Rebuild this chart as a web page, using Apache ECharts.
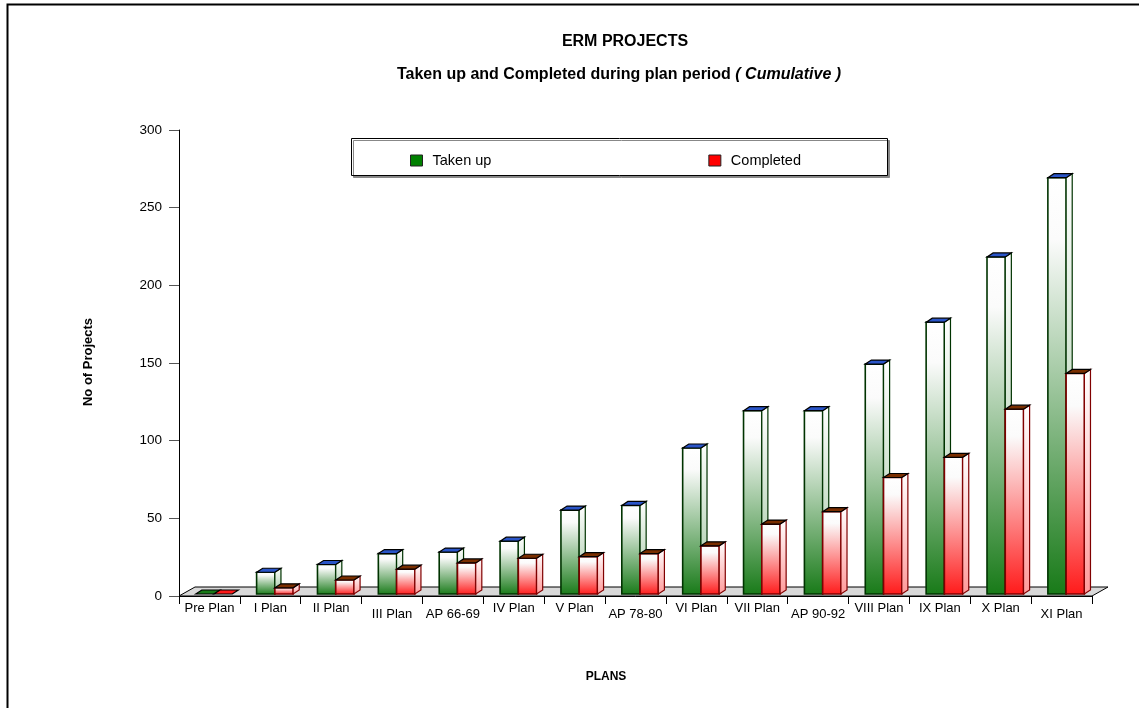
<!DOCTYPE html>
<html>
<head>
<meta charset="utf-8">
<script src="https://cdn.jsdelivr.net/npm/echarts@6/dist/echarts.min.js"></script>
<style>
  html, body { margin: 0; padding: 0; background: #fff; }
  #chart { width: 1139px; height: 708px; }
</style>
</head>
<body>
<div id="chart"></div>
<script>
// values
var plans = ['Pre Plan', 'I Plan', 'II Plan', 'III Plan', 'AP 66-69', 'IV Plan', 'V Plan', 'AP 78-80',
  'VI Plan', 'VII Plan', 'AP 90-92', 'VIII Plan', 'IX Plan', 'X Plan', 'XI Plan'];
var takenUp = [0, 14, 19, 26, 27, 34, 54, 57, 94, 118, 118, 148, 175, 217, 268];
var completed = [0, 4, 9, 16, 20, 23, 24, 26, 31, 45, 53, 75, 88, 119, 142];
// labels that sit a bit lower in the original
var lowLabels = [3, 4, 7, 10, 14];

var FONT = '"Liberation Sans", Arial, sans-serif';
var chart = echarts.init(document.getElementById('chart'));

function toPairs(arr) {
  return arr.map(function (v, i) { return [i, v]; });
}

// draws a pseudo-3d bar: front face, right side and top
function bar3d(offset, c) {
  return function (params, api) {
    var i = api.value(0), v = api.value(1);
    var base = api.coord([i, 0]);
    var top = api.coord([i, v]);
    var bw = api.size([1, 0])[0];
    var w = bw * 0.3;
    var d = bw * 0.1;
    var dh = 4;
    var x0 = base[0] + bw * offset;
    var y0 = base[1] - 2;
    var y1 = top[1] - 2;
    var kids = [];
    var topFill = v > 0 ? c.top : c.bottom;
    if (v > 0) {
      kids.push({
        type: 'rect',
        shape: { x: x0, y: y1, width: w, height: y0 - y1 },
        style: {
          fill: new echarts.graphic.LinearGradient(0, 0, 0, 1, [
            { offset: 0, color: '#ffffff' },
            { offset: 0.15, color: '#fbfbfb' },
            { offset: 1, color: c.bottom }
          ]),
          stroke: c.border, lineWidth: 1.6
        }
      });
      kids.push({
        type: 'polygon',
        shape: { points: [[x0 + w, y1], [x0 + w + d, y1 - dh], [x0 + w + d, y0 - dh], [x0 + w, y0]] },
        style: {
          fill: new echarts.graphic.LinearGradient(0, 0, 0, 1, [
            { offset: 0, color: '#ffffff' },
            { offset: 1, color: c.side }
          ]),
          stroke: c.border, lineWidth: 1.2
        }
      });
    }
    kids.push({
      type: 'polygon',
      shape: { points: [[x0, y1], [x0 + d, y1 - dh], [x0 + w + d, y1 - dh], [x0 + w, y1]] },
      style: { fill: topFill, stroke: '#000', lineWidth: 1.2 }
    });
    return { type: 'group', children: kids };
  };
}

var option = {
  backgroundColor: '#fff',
  animation: false,
  grid: { left: 179, right: 47, top: 130, bottom: 112, containLabel: false },
  legend: {
    left: 405, top: 148,
    itemGap: 217,
    itemWidth: 12, itemHeight: 11,
    icon: 'rect',
    itemStyle: { borderColor: '#222', borderWidth: 1 },
    textStyle: { fontFamily: FONT, fontSize: 14.5, color: '#000', padding: [0, 0, 0, 5] },
    data: ['Taken up', 'Completed']
  },
  xAxis: {
    type: 'category',
    data: plans,
    axisLine: { lineStyle: { color: '#000', width: 1 } },
    axisTick: { show: true, length: 8, lineStyle: { color: '#000' } },
    axisLabel: {
      margin: 6,
      interval: 0,
      formatter: function (v, idx) {
        return lowLabels.indexOf(idx) >= 0 ? '{lo|' + v + '}' : '{hi|' + v + '}';
      },
      rich: {
        hi: { fontFamily: FONT, fontSize: 13, color: '#000' },
        lo: { fontFamily: FONT, fontSize: 13, color: '#000', padding: [6, 0, 0, 0] }
      }
    },
    splitLine: { show: false }
  },
  yAxis: {
    type: 'value',
    min: 0, max: 300, interval: 50,
    axisLine: { show: true, lineStyle: { color: '#000', width: 1 } },
    axisTick: { show: true, length: 10, lineStyle: { color: '#555' } },
    axisLabel: { margin: 17, fontFamily: FONT, fontSize: 13.5, color: '#000' },
    splitLine: { show: false }
  },
  graphic: [
    { type: 'rect', z: -10, shape: { x: 7.5, y: 4.5, width: 1300, height: 900 },
      style: { fill: '#fff', stroke: '#000', lineWidth: 2 } },
    { type: 'rect', z: 1, shape: { x: 351.5, y: 138.5, width: 536, height: 37 },
      style: { fill: '#fff', stroke: '#000', lineWidth: 1,
        shadowColor: '#888', shadowOffsetX: 2, shadowOffsetY: 2, shadowBlur: 0 } },
    { type: 'text', x: 625, y: 42, z: 5,
      style: { text: 'ERM PROJECTS', font: 'bold 16px ' + FONT, fill: '#000',
        align: 'center', verticalAlign: 'middle' } },
    { type: 'text', x: 619, y: 75, z: 5,
      style: {
        text: '{a|Taken up and Completed during plan period }{b|( Cumulative )}',
        align: 'center', verticalAlign: 'middle',
        rich: {
          a: { font: 'bold 16px ' + FONT, fill: '#000' },
          b: { font: 'italic bold 16px ' + FONT, fill: '#000' }
        }
      } },
    { type: 'text', x: 88, y: 362, rotation: Math.PI / 2, z: 5,
      style: { text: 'No of Projects', font: 'bold 13px ' + FONT, fill: '#000',
        align: 'center', verticalAlign: 'middle' } },
    { type: 'text', x: 606, y: 677, z: 5,
      style: { text: 'PLANS', font: 'bold 12px ' + FONT, fill: '#000',
        align: 'center', verticalAlign: 'middle' } }
  ],
  series: [
    {
      name: 'floor',
      type: 'custom',
      z: 1,
      silent: true,
      data: [[0, 0]],
      renderItem: function (params, api) {
        var cs = params.coordSys;
        var yf = cs.y + cs.height;
        return {
          type: 'polygon',
          shape: { points: [[cs.x, yf], [cs.x + cs.width, yf], [cs.x + cs.width + 16, yf - 9], [cs.x + 16, yf - 9]] },
          style: { fill: '#d9d9d9', stroke: '#000', lineWidth: 1 }
        };
      }
    },
    {
      name: 'Taken up',
      type: 'custom',
      z: 3,
      itemStyle: { color: '#008000', borderColor: '#003300', borderWidth: 1 },
      encode: { x: 0, y: 1 },
      data: toPairs(takenUp),
      renderItem: bar3d(-0.225, { bottom: '#187a18', side: '#9cc49c', border: '#003300', top: '#2a55c8' })
    },
    {
      name: 'Completed',
      type: 'custom',
      z: 4,
      itemStyle: { color: '#ff0000', borderColor: '#800000', borderWidth: 1 },
      encode: { x: 0, y: 1 },
      data: toPairs(completed),
      renderItem: bar3d(0.075, { bottom: '#ff1a1a', side: '#ff9a9a', border: '#800000', top: '#7a2e00' })
    }
  ]
};

chart.setOption(option);
</script>
</body>
</html>
